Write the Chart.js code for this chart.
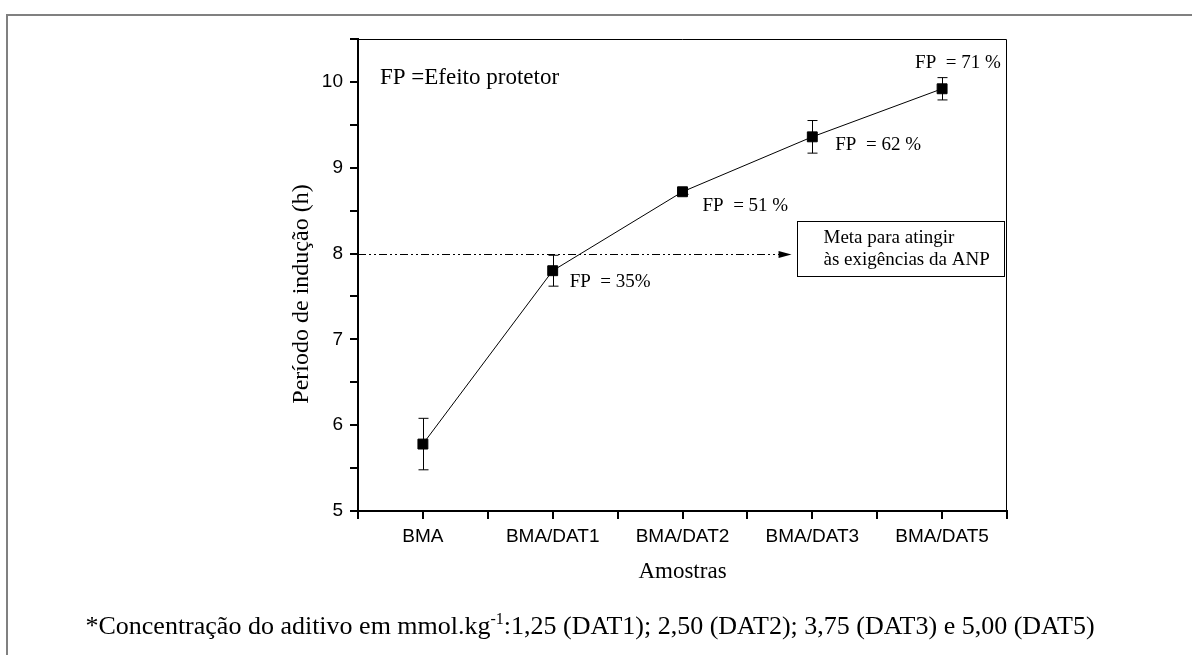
<!DOCTYPE html>
<html>
<head>
<meta charset="utf-8">
<title>Período de indução</title>
<script src="https://cdn.jsdelivr.net/npm/chart.js@4.4.1/dist/chart.umd.min.js"></script>
<style>
  html, body { margin: 0; padding: 0; background: #fff; }
  #wrap { width: 1192px; height: 655px; }
</style>
</head>
<body>
<div id="wrap"><canvas id="myChart" width="1192" height="655"></canvas></div>
<script>
// samples and measured induction period (h)
const categories = ['BMA', 'BMA/DAT1', 'BMA/DAT2', 'BMA/DAT3', 'BMA/DAT5'];
const inductionPeriod = [5.78, 7.80, 8.72, 9.36, 9.92];
const errorBars = [0.30, 0.18, 0.03, 0.19, 0.13];
const fpLabels = ['', 'FP  = 35%', 'FP  = 51 %', 'FP  = 62 %', 'FP  = 71 %'];
const targetValue = 8;
const targetText = ['Meta para atingir', 'às exigências da ANP'];
const legendNote = 'FP =Efeito protetor';
const yTitle = 'Período de indução (h)';
const xTitle = 'Amostras';

const serif = '"Liberation Serif", "Times New Roman", serif';
const sans = '"Liberation Sans", Arial, sans-serif';

var points = [];
for (var i = 0; i < inductionPeriod.length; i++) {
  points.push({ x: i + 1, y: inductionPeriod[i] });
}

// pixel offsets of each FP label from its point
const fpOffsets = [[0, 0], [17, 11], [20, 14], [23, 8], [-27, -26]];

const extras = {
  id: 'extras',
  beforeDraw: function(chart) {
    const ctx = chart.ctx;
    ctx.save();
    ctx.fillStyle = '#fff';
    ctx.fillRect(0, 0, chart.width, chart.height);
    // page frame
    ctx.strokeStyle = '#808080';
    ctx.lineWidth = 2;
    ctx.beginPath();
    ctx.moveTo(7, 655);
    ctx.lineTo(7, 15);
    ctx.lineTo(1192, 15);
    ctx.stroke();
    ctx.restore();
  },
  afterDatasetsDraw: function(chart) {
    const ctx = chart.ctx;
    const xs = chart.scales.x;
    const ys = chart.scales.y;
    const area = chart.chartArea;
    ctx.save();

    // top and right frame of the plot
    ctx.strokeStyle = '#000';
    ctx.lineWidth = 1;
    ctx.beginPath();
    ctx.moveTo(area.left, area.top + 0.5);
    ctx.lineTo(area.right - 0.5, area.top + 0.5);
    ctx.lineTo(area.right - 0.5, area.bottom);
    ctx.stroke();

    // error bars
    for (var i = 0; i < inductionPeriod.length; i++) {
      const px = Math.round(xs.getPixelForValue(i + 1)) + 0.5;
      const hi = ys.getPixelForValue(inductionPeriod[i] + errorBars[i]);
      const lo = ys.getPixelForValue(inductionPeriod[i] - errorBars[i]);
      ctx.beginPath();
      ctx.moveTo(px, hi);
      ctx.lineTo(px, lo);
      ctx.moveTo(px - 5, hi);
      ctx.lineTo(px + 5, hi);
      ctx.moveTo(px - 5, lo);
      ctx.lineTo(px + 5, lo);
      ctx.stroke();
    }

    // target line with arrow
    const ty = Math.round(ys.getPixelForValue(targetValue)) + 0.5;
    const tipX = xs.getPixelForValue(3.84);
    ctx.setLineDash([8, 3, 2, 3, 2, 3]);
    ctx.beginPath();
    ctx.moveTo(area.left, ty);
    ctx.lineTo(tipX - 10, ty);
    ctx.stroke();
    ctx.setLineDash([]);
    ctx.fillStyle = '#000';
    ctx.beginPath();
    ctx.moveTo(tipX, ty);
    ctx.lineTo(tipX - 13, ty - 3.5);
    ctx.lineTo(tipX - 13, ty + 3.5);
    ctx.closePath();
    ctx.fill();

    // target box
    const bx0 = Math.round(xs.getPixelForValue(3.88)) + 0.5;
    const bx1 = Math.round(xs.getPixelForValue(5.48)) + 0.5;
    const by0 = Math.round(ys.getPixelForValue(8.38)) + 0.5;
    const by1 = Math.round(ys.getPixelForValue(7.74)) + 0.5;
    ctx.strokeRect(bx0, by0, bx1 - bx0, by1 - by0);
    ctx.font = '19px ' + serif;
    ctx.textAlign = 'left';
    ctx.textBaseline = 'middle';
    ctx.fillText(targetText[0], bx0 + 26, by0 + 17);
    ctx.fillText(targetText[1], bx0 + 26, by0 + 39);

    // FP labels
    ctx.font = '19px ' + serif;
    for (var j = 0; j < fpLabels.length; j++) {
      if (!fpLabels[j]) continue;
      const lx = xs.getPixelForValue(j + 1) + fpOffsets[j][0];
      const ly = ys.getPixelForValue(inductionPeriod[j]) + fpOffsets[j][1];
      ctx.fillText(fpLabels[j], lx, ly);
    }

    ctx.font = '23px ' + serif;
    ctx.fillText(legendNote, area.left + 22, area.top + 39);

    // axis titles
    ctx.textAlign = 'center';
    ctx.fillText(xTitle, (area.left + area.right) / 2, 572);
    ctx.save();
    ctx.translate(302, 294);
    ctx.rotate(-Math.PI / 2);
    ctx.font = '24px ' + serif;
    ctx.fillText(yTitle, 0, 0);
    ctx.restore();

    // footnote with superscript
    const bigFont = '26px ' + serif;
    const supFont = '16px ' + serif;
    ctx.textAlign = 'left';
    ctx.textBaseline = 'alphabetic';
    const partA = '*Concentração do aditivo em mmol.kg';
    const partSup = '-1';
    const partB = ':1,25 (DAT1); 2,50 (DAT2); 3,75 (DAT3) e 5,00 (DAT5)';
    ctx.font = bigFont;
    const wA = ctx.measureText(partA).width;
    const wB = ctx.measureText(partB).width;
    ctx.font = supFont;
    const wS = ctx.measureText(partSup).width;
    const startX = 590 - (wA + wS + wB) / 2;
    const base = 634;
    ctx.font = bigFont;
    ctx.fillText(partA, startX, base);
    ctx.font = supFont;
    ctx.fillText(partSup, startX + wA, base - 10);
    ctx.font = bigFont;
    ctx.fillText(partB, startX + wA + wS, base);

    ctx.restore();
  }
};

const data = {
  datasets: [{
    label: yTitle,
    data: points,
    showLine: true,
    borderColor: '#000',
    borderWidth: 1,
    backgroundColor: '#000',
    pointStyle: 'rect',
    pointRadius: 7,
    pointHoverRadius: 7
  }]
};

const config = {
  type: 'scatter',
  data: data,
  options: {
    responsive: false,
    animation: false,
    devicePixelRatio: 1,
    layout: { padding: { left: 308, right: 185, top: 39, bottom: 94 } },
    plugins: { legend: { display: false }, tooltip: { enabled: false } },
    scales: {
      x: {
        type: 'linear',
        min: 0.5,
        max: 5.5,
        afterFit: function(scale) { scale.height = 50; },
        border: { display: true, color: '#000', width: 2 },
        grid: { drawOnChartArea: false, color: '#000', lineWidth: 2, tickLength: 8 },
        ticks: {
          stepSize: 0.5,
          autoSkip: false,
          maxRotation: 0,
          padding: 6,
          color: '#000',
          font: { family: sans, size: 19 },
          callback: function(v) { return Number.isInteger(v) ? categories[v - 1] : ''; }
        }
      },
      y: {
        min: 5,
        max: 10.5,
        afterFit: function(scale) { scale.width = 50; },
        border: { display: true, color: '#000', width: 2 },
        grid: { drawOnChartArea: false, color: '#000', lineWidth: 2, tickLength: 8 },
        ticks: {
          stepSize: 0.5,
          autoSkip: false,
          padding: 7,
          color: '#000',
          font: { family: sans, size: 19 },
          callback: function(v) { return Number.isInteger(v) ? String(v) : ''; }
        }
      }
    }
  },
  plugins: [extras]
};

window.onload = function() {
  const myChart = new Chart(document.getElementById('myChart'), config);
};
</script>
</body>
</html>
